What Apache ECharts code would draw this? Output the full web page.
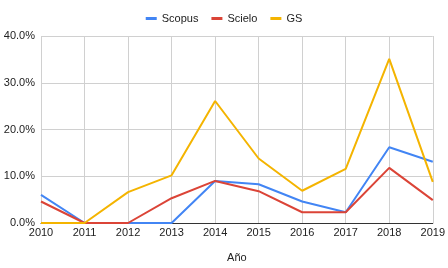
<!DOCTYPE html>
<html>
<head>
<meta charset="utf-8">
<script src="https://cdn.jsdelivr.net/npm/echarts@6/dist/echarts.min.js"></script>
<style>
  html, body { margin: 0; padding: 0; background: #fff; }
  #chart { width: 448px; height: 268px; }
</style>
</head>
<body>
<div id="chart"></div>
<script>
const years = ['2010', '2011', '2012', '2013', '2014', '2015', '2016', '2017', '2018', '2019'];
const scopus = [6.0, 0, 0, 0, 9.0, 8.3, 4.6, 2.3, 16.2, 13.1];
const scielo = [4.6, 0, 0, 5.3, 9.0, 6.8, 2.3, 2.3, 11.8, 4.9];
const gs = [0, 0, 6.6, 10.2, 26.1, 13.8, 6.9, 11.6, 35.1, 8.8];

const chart = echarts.init(document.getElementById('chart'));

const mkSeries = (name, data, color) => ({
  name: name,
  type: 'line',
  data: data,
  symbol: 'none',
  lineStyle: { width: 2, color: color },
  itemStyle: { color: color }
});

chart.setOption({
  animation: false,
  textStyle: { fontFamily: 'Liberation Sans, Arial, sans-serif' },
  legend: {
    top: 8,
    left: 'center',
    icon: 'rect',
    itemWidth: 11,
    itemHeight: 3,
    itemGap: 13,
    textStyle: { fontSize: 11, color: '#222' },
    data: ['Scopus', 'Scielo', 'GS']
  },
  grid: { left: 41, right: 15, top: 36, bottom: 43 },
  xAxis: {
    type: 'category',
    data: years,
    boundaryGap: false,
    name: 'Año',
    nameLocation: 'middle',
    nameGap: 29,
    nameTextStyle: { fontSize: 11, color: '#222' },
    axisLine: { lineStyle: { color: '#333', width: 1 } },
    axisTick: { show: false },
    axisLabel: { fontSize: 11, color: '#222', margin: 4 },
    splitLine: { show: true, lineStyle: { color: '#d0d0d0' } }
  },
  yAxis: {
    type: 'value',
    min: 0,
    max: 40,
    interval: 10,
    axisLine: { show: false },
    axisTick: { show: false },
    axisLabel: { fontSize: 11, color: '#222', margin: 6, formatter: v => v.toFixed(1) + '%' },
    splitLine: { lineStyle: { color: '#d0d0d0' } }
  },
  series: [
    mkSeries('Scopus', scopus, '#4285f4'),
    mkSeries('Scielo', scielo, '#db4437'),
    mkSeries('GS', gs, '#f4b400')
  ]
});
</script>
</body>
</html>
